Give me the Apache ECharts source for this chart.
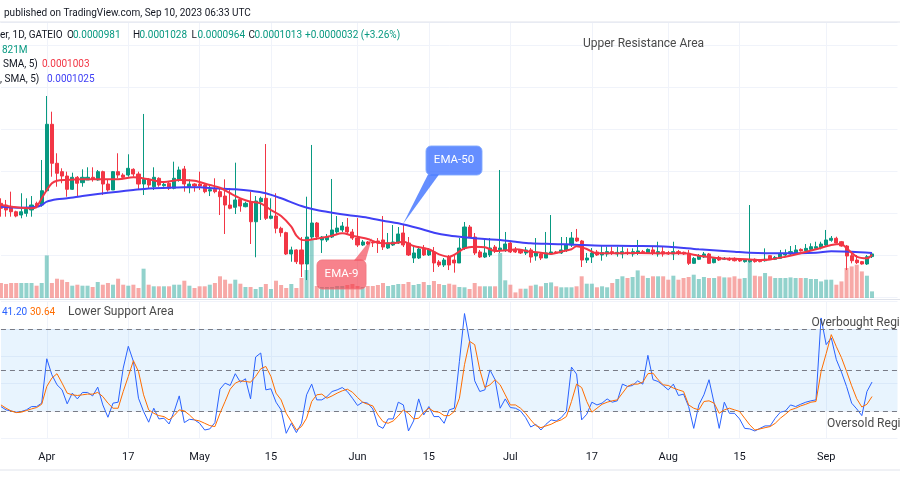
<!DOCTYPE html>
<html>
<head>
<meta charset="utf-8">
<script src="https://cdn.jsdelivr.net/npm/echarts/dist/echarts.min.js"></script>
<style>
html,body{margin:0;padding:0;background:#ffffff;}
#chart{width:900px;height:500px;}
</style>
</head>
<body>
<div id="chart"></div>
<script>
// ---- Data (prices in units of 0.0000001; volume in millions) ----
const PRICE_UNIT = 1e-7;
const firstDate = '2023-03-23';
const open = [1615,1595,1575,1515,1476,1496,1536,1615,1595,1765,
2556,2092,1992,1940,1782,1925,1861,1893,1925,1893,
1992,1845,1774,1992,1952,1952,2020,1964,1845,1901,
1813,1913,1825,1854,1794,1893,2024,1806,1845,1845,
1833,1762,1782,1754,1702,1595,1568,1663,1575,1635,
1396,1635,1675,1437,1464,1318,1266,1012,1060,1060,
893,1214,1381,1179,1179,1214,1274,1298,1333,1274,
1202,1119,1155,1155,1167,1179,1083,1119,1143,1262,
1143,964,964,1083,1000,1036,917,881,976,940,
905,1083,1333,1214,1036,976,1000,1095,1060,1060,
1143,1060,1060,1024,1060,988,1012,964,1012,1036,
1024,1060,1119,1202,1167,940,976,1036,1000,1012,
1040,1012,1012,1032,1012,1020,1040,1020,1060,1012,
1040,1028,1012,1040,1032,1020,901,949,976,1012,
909,972,949,960,960,949,921,921,949,940,
932,992,949,960,1000,1012,1012,1067,1052,1067,
1079,1087,1119,1175,1199,1158,1107,992,940,921,
893,981];
const close = [1556,1536,1515,1464,1515,1544,1595,1575,1765,2556,
2092,1973,1940,1782,1925,1854,1925,1925,1901,1992,
1845,1774,1992,1952,1925,2032,1964,1845,1901,1833,
1925,1833,1841,1794,1913,2012,1845,1845,1821,1821,
1754,1778,1754,1694,1595,1556,1655,1583,1615,1396,
1643,1675,1437,1464,1318,1266,1012,1060,920,893,
1214,1381,1214,1214,1214,1298,1321,1345,1274,1202,
1119,1155,1131,1143,1143,1095,1143,1155,1250,1119,
1000,1024,1071,1000,1060,905,881,940,881,905,
1083,1333,1214,1024,976,1024,1083,1060,1083,1131,
1036,1036,1024,1060,976,1024,964,1024,1036,1024,
1060,1119,1202,1167,940,964,1024,1000,1028,1040,
1020,1032,1040,1020,1040,1048,1020,1067,1020,1040,
1012,1012,1040,1020,1012,901,960,992,1012,901,
960,940,960,940,932,929,940,940,921,921,
949,949,972,1020,1020,1040,1060,1048,1079,1099,
1099,1131,1179,1199,1143,1107,988,932,909,893,
980,1013];
const low = [1456,1456,1456,1449,1437,1456,1456,1556,1575,1754,
1932,1813,1854,1694,1774,1702,1813,1893,1873,1885,
1714,1754,1774,1913,1901,1932,1932,1774,1714,1798,
1774,1813,1813,1774,1782,1873,1754,1735,1754,1774,
1735,1702,1735,1476,1250,1544,1488,1515,1568,1131,
973,1417,1417,1425,1258,1218,1000,920,893,738,
702,1179,1179,1024,1155,1202,1250,1274,1250,1179,
1095,1107,1119,1095,1024,1060,1071,1107,1131,1095,
988,905,952,988,988,798,857,857,821,790,
905,1060,1202,1000,964,964,976,1024,1024,1036,
1024,1024,1012,1000,908,932,940,964,1000,1012,
1012,1036,1095,1155,857,905,905,988,932,980,
1000,980,960,1000,980,1000,1012,1012,1000,980,
980,1000,940,1000,1000,881,893,940,964,893,
901,929,940,929,923,917,909,909,909,913,
921,940,940,960,988,1000,1000,1040,1040,1060,
1067,1067,1107,1158,1139,1099,821,901,893,885,
881,964];
const high = [1675,1655,1754,1527,1735,1675,1702,1635,2131,2893,
2706,2211,2032,1992,1980,1940,2020,2044,2044,2012,
2004,1893,2000,2211,1973,2199,2032,1992,2679,1917,
2044,1925,1873,1873,2111,2052,2060,1901,1854,1992,
1845,1821,1913,1806,1901,1794,2099,1675,1635,1754,
1702,1694,2321,1675,1735,1337,1277,1099,1068,1214,
1694,2310,1393,1226,1250,1905,1464,1393,1440,1310,
1440,1179,1167,1167,1202,1464,1262,1357,1333,1357,
1214,1095,1107,1119,1083,1095,940,964,1000,1000,
1202,1393,1357,1262,1060,1202,1202,1119,2012,1274,
1155,1095,1071,1095,1083,1202,1024,1274,1476,1048,
1214,1214,1274,1310,1179,1024,1083,1060,1119,1099,
1099,1099,1099,1079,1079,1179,1060,1079,1099,1158,
1099,1048,1158,1060,1040,1060,976,1012,1036,1024,
976,988,976,972,972,960,952,1595,960,949,
1079,1000,988,1060,1067,1107,1119,1079,1131,1139,
1158,1158,1298,1226,1218,1167,1119,1020,1000,929,
1000,1028];
const volume = [1860,1740,1860,1860,1860,1860,1860,1525,1860,5282,
1860,2393,2269,1984,1525,1649,1525,1525,1364,1984,
1649,1860,1649,2393,1649,1525,1649,1240,3633,1649,
1451,1451,1451,1451,1649,1649,2145,1525,1240,1451,
1451,1649,1860,2691,2269,1773,2269,1773,1364,1364,
1116,1364,1736,1116,2145,1612,1240,1736,1240,2480,
3472,7192,1488,1364,1364,1364,1488,1488,1612,1736,
1488,1364,1488,1488,1612,1860,1488,1612,1736,1736,
1984,1612,1736,1984,1612,2108,1736,1612,1773,1649,
1364,1327,1116,1860,1451,1451,1451,1451,5580,2195,
1649,694,1153,1153,1525,1649,1451,1860,1934,1451,
1327,1327,1327,1451,2691,1773,1773,1327,1451,1327,
1860,2356,2691,2480,2604,3422,2765,2480,2691,2691,
2691,2269,2765,2269,2480,2604,2889,2356,2604,2480,
2480,2691,2554,2554,2691,2393,2480,4538,2765,2691,
3100,2691,2480,2480,2480,2554,2480,2480,2480,2356,
2356,2058,2269,2269,1649,2058,3720,3918,4129,3298,
2765,821];
// EMA readings: [day index, value]
const ema9 = [[0,1595],[3,1568],[6,1556],[7,1575],[8,1675],[9,1774],[10,1854],[11,1885],[13,1893],[16,1901],[19,1901],[23,1901],[26,1925],[29,1901],[32,1869],[35,1893],[38,1885],[41,1833],[43,1801],[45,1735],[47,1675],[49,1635],[51,1615],[53,1536],[55,1464],[57,1337],[58,1230],[59,1180],[60,1175],[61,1185],[63,1205],[65,1230],[67,1258],[69,1230],[72,1190],[74,1146],[77,1139],[79,1158],[81,1107],[84,1068],[86,1008],[88,980],[91,1080],[93,1099],[95,1092],[97,1048],[100,1060],[101,1068],[104,1039],[106,1027],[108,1012],[110,1039],[112,1068],[113,1105],[115,1071],[117,1020],[120,1020],[125,1024],[130,1020],[134,1020],[137,992],[141,960],[145,952],[147,946],[149,940],[151,946],[154,980],[157,1020],[160,1068],[163,1119],[165,1131],[166,1080],[168,980],[170,960],[171,1003]];
const ema50 = [[0,1575],[4,1563],[7,1575],[8,1595],[9,1635],[11,1663],[13,1675],[16,1702],[19,1726],[23,1754],[26,1774],[29,1792],[33,1800],[36,1806],[39,1806],[42,1794],[46,1782],[49,1765],[52,1735],[55,1675],[59,1583],[62,1536],[65,1504],[68,1476],[72,1444],[75,1408],[78,1377],[82,1318],[85,1266],[88,1232],[91,1211],[95,1190],[98,1179],[101,1158],[104,1139],[108,1131],[111,1127],[114,1119],[118,1111],[124,1107],[131,1099],[137,1068],[144,1039],[147,1027],[153,1020],[160,1027],[163,1044],[167,1039],[171,1025]];
const stochK = [23.3,20.9,20.1,19.2,19.7,20.9,23.3,23.3,25.8,58.2,
46.5,39.2,35.5,25.3,33.1,28.9,33.6,33.6,31.1,37.5,
24.5,15.5,25.8,26.5,51.4,67.3,56.3,29.4,19.7,11.9,
22.1,14.3,14.8,10.6,19.7,31.1,11.6,14.0,13.6,11.1,
6.2,7.0,11.6,36.0,40.4,38.7,47.3,41.1,43.6,28.9,
59.5,62.4,35.5,36.3,26.5,20.9,3.8,11.1,4.3,11.1,
31.9,39.7,28.2,28.2,30.6,34.3,35.5,37.2,34.3,29.4,
24.1,26.5,25.8,21.6,9.4,7.4,14.3,14.3,26.5,24.5,
5.5,12.8,28.9,17.2,23.3,16.0,16.0,11.1,20.9,22.1,
56.3,91.2,70.9,42.1,34.3,35.5,50.1,42.9,22.1,28.9,
22.6,22.1,20.1,15.3,8.4,10.4,6.2,10.4,13.6,12.8,
15.3,19.7,52.1,47.0,13.6,17.7,26.5,24.5,25.8,28.9,
26.5,27.5,39.7,38.0,38.7,42.1,39.7,60.7,42.9,41.6,
38.7,35.5,39.7,31.4,32.4,23.3,7.4,24.5,31.9,42.9,
25.8,7.4,26.5,18.4,18.4,14.3,7.4,7.0,5.5,7.4,
9.2,9.2,14.8,19.2,20.1,24.5,23.3,25.0,26.5,27.5,
28.2,88.0,68.5,73.4,57.5,48.5,38.0,25.8,21.6,16.7,
34.3,41.2];
const stochD = [24.5,22.1,20.1,18.9,19.2,20.4,21.6,22.6,25.0,38.0,
44.1,47.3,40.4,33.1,31.9,31.4,31.9,32.4,32.4,33.6,
30.6,25.8,22.1,22.1,34.3,45.3,56.8,48.9,31.9,20.9,
18.4,16.7,16.0,13.6,16.7,20.9,20.1,17.2,13.6,12.8,
11.1,9.4,8.7,18.4,27.0,36.0,40.4,42.1,41.6,41.1,
45.3,50.9,52.6,45.3,33.1,28.2,18.4,12.3,6.2,8.7,
14.8,27.0,31.9,32.4,29.4,31.1,33.1,34.8,36.0,33.8,
29.9,26.5,25.0,23.8,17.2,12.3,11.1,12.8,16.5,20.9,
18.4,14.3,14.8,19.2,22.1,19.7,19.2,16.7,16.7,19.7,
29.4,53.9,70.9,68.5,50.1,37.2,39.2,42.9,39.2,31.9,
24.5,24.5,22.1,18.4,13.6,9.4,7.9,9.2,10.4,12.3,
13.6,16.0,27.0,39.7,37.2,27.0,19.2,22.1,25.0,26.5,
27.5,28.2,33.1,38.0,39.7,39.7,41.1,47.3,47.7,42.9,
39.2,38.7,36.8,35.5,34.3,24.5,22.1,20.9,27.0,27.5,
25.8,18.4,20.9,22.1,20.9,19.7,14.8,9.9,6.2,7.0,
7.9,8.7,11.1,14.8,17.7,20.9,22.1,23.8,25.0,26.5,
27.0,48.9,62.0,75.8,67.0,59.0,49.0,38.5,29.0,23.0,
25.0,30.64];
const tickLabels = {'Apr 1':'Apr','Apr 17':'17','May 1':'May','May 15':'15','Jun 1':'Jun','Jun 15':'15','Jul 1':'Jul','Jul 17':'17','Aug 1':'Aug','Aug 15':'15','Sep 1':'Sep'};
const lastClose = 1013;
const stochLevels = {upper:80, middle:50, lower:20};

// ---- Build ----
const MONTHS = ['Jan','Feb','Mar','Apr','May','Jun','Jul','Aug','Sep','Oct','Nov','Dec'];
const EXTRA_SLOTS = 5;
const dates = [];
const t0 = Date.parse(firstDate + 'T00:00:00Z');
for (let i = 0; i < open.length + EXTRA_SLOTS; i++) {
  const d = new Date(t0 + i * 86400000);
  dates.push(MONTHS[d.getUTCMonth()] + ' ' + d.getUTCDate());
}
const UP = '#089981', DOWN = '#f23645';
const candles = open.map((o, i) => [o * PRICE_UNIT, close[i] * PRICE_UNIT, low[i] * PRICE_UNIT, high[i] * PRICE_UNIT]);
const volData = volume.map((v, i) => ({value: v, itemStyle: {color: close[i] >= open[i] ? 'rgba(38,166,154,0.5)' : 'rgba(239,83,80,0.5)'}}));
const scalePts = pts => pts.map(p => [p[0], p[1] * PRICE_UNIT]);

const FONT = 'Roboto, "Liberation Sans", sans-serif';
const isTick = (i, v) => Object.prototype.hasOwnProperty.call(tickLabels, v);
function xAx(gi, labels, split) {
  return {
    type: 'category', gridIndex: gi, data: dates, boundaryGap: false,
    axisLine: {show: false}, axisTick: {show: false},
    axisLabel: {show: labels, interval: isTick, formatter: v => tickLabels[v] || '', color: '#131722', fontSize: 11, fontFamily: FONT, margin: 13},
    splitLine: {show: split, interval: isTick, lineStyle: {color: '#f0f3fa', width: 1}}
  };
}
function txt(x, y, t, fill, size, extra) {
  return Object.assign({type: 'text', x: x, y: y, z: 100, silent: true,
    style: {text: t, fill: fill, font: size + 'px ' + FONT, verticalAlign: 'middle'}}, extra || {});
}
function hline(y) {
  return {type: 'line', z: 90, silent: true, shape: {x1: 0, y1: y, x2: 900, y2: y}, style: {stroke: '#e0e3eb', lineWidth: 1}};
}

const option = {
  animation: false,
  backgroundColor: '#ffffff',
  grid: [
    {left: 0.95, right: 2.5, top: 22, height: 275},
    {left: 0.95, right: 2.5, top: 198, height: 100},
    {left: 0.95, right: 2.5, top: 301.5, height: 137}
  ],
  xAxis: [xAx(0, false, true), xAx(1, false, false), xAx(2, true, true)],
  yAxis: [
    {gridIndex: 0, type: 'value', min: 0.00005, max: 0.00037738, interval: 0.00005,
      axisLabel: {show: false}, axisLine: {show: false}, axisTick: {show: false},
      splitLine: {lineStyle: {color: '#f0f3fa'}}},
    {gridIndex: 1, type: 'value', min: 0, max: 12400, show: false, splitLine: {show: false}},
    {gridIndex: 2, type: 'value', min: 0, max: 100, interval: 20,
      axisLabel: {show: false}, axisLine: {show: false}, axisTick: {show: false},
      splitLine: {lineStyle: {color: '#f0f3fa'}}}
  ],
  series: [
    {type: 'bar', xAxisIndex: 1, yAxisIndex: 1, data: volData, barWidth: 4, z: 1, silent: true},
    {type: 'candlestick', xAxisIndex: 0, yAxisIndex: 0, data: candles, barWidth: 3.6, z: 3,
      itemStyle: {color: UP, color0: DOWN, borderColor: UP, borderColor0: DOWN, borderWidth: 1},
      markLine: {silent: true, symbol: ['none', 'none'], label: {show: false},
        lineStyle: {color: UP, type: [1, 2], width: 1},
        data: [{yAxis: lastClose * PRICE_UNIT}]}},
    {type: 'line', xAxisIndex: 0, yAxisIndex: 0, data: scalePts(ema50), showSymbol: false, smooth: 0.3, z: 4,
      lineStyle: {color: '#4040f5', width: 2}},
    {type: 'line', xAxisIndex: 0, yAxisIndex: 0, data: scalePts(ema9), showSymbol: false, smooth: 0.3, z: 5,
      lineStyle: {color: '#f23645', width: 2}},
    {type: 'line', xAxisIndex: 2, yAxisIndex: 2, data: stochK, showSymbol: false, z: 4,
      lineStyle: {color: '#2962ff', width: 1},
      markArea: {silent: true, itemStyle: {color: 'rgba(33,150,243,0.1)'},
        data: [[{yAxis: stochLevels.lower}, {yAxis: stochLevels.upper}]]},
      markLine: {silent: true, symbol: ['none', 'none'], label: {show: false},
        lineStyle: {color: '#787b86', type: [5, 4], width: 1},
        data: [{yAxis: stochLevels.upper}, {yAxis: stochLevels.middle}, {yAxis: stochLevels.lower}]}},
    {type: 'line', xAxisIndex: 2, yAxisIndex: 2, data: stochD, showSymbol: false, z: 5,
      lineStyle: {color: '#ff6d00', width: 1}}
  ],
  graphic: [
    hline(22), hline(299.5), hline(470),
    txt(4, 13, 'published on TradingView.com, Sep 10, 2023 06:33 UTC', '#131722', 10),
    txt(0, 35, 'er, 1D, GATEIO', '#131722', 10),
    txt(67, 35, 'O', '#131722', 10), txt(73, 35, '0.0000981', UP, 10),
    txt(133, 35, 'H', '#131722', 10), txt(139.5, 35, '0.0001028', UP, 10),
    txt(191.5, 35, 'L', '#131722', 10), txt(197.5, 35, '0.0000964', UP, 10),
    txt(248.5, 35, 'C', '#131722', 10), txt(254.5, 35, '0.0001013', UP, 10),
    txt(305, 35, '+0.0000032 (+3.26%)', UP, 10),
    txt(2, 50, '821M', UP, 10),
    txt(3, 64, 'SMA, 5)', '#131722', 10), txt(42, 64, '0.0001003', DOWN, 10),
    txt(0, 79, ', SMA, 5)', '#131722', 10), txt(47, 79, '0.0001025', '#4040f5', 10),
    txt(583, 44, 'Upper Resistance Area', '#4a4a4a', 12),
    txt(2, 312, '41.20', '#2962ff', 10), txt(30, 312, '30.64', '#ff6d00', 10),
    txt(68, 312, 'Lower Support Area', '#4a4a4a', 12),
    txt(811.5, 323, 'Overbought Region', '#4a4a4a', 12),
    txt(827, 424, 'Oversold Region', '#4a4a4a', 12),
    // EMA-50 callout
    {type: 'rect', z: 60, silent: true, shape: {x: 426, y: 146, width: 56, height: 29, r: 5},
      style: {fill: 'rgba(41,98,255,0.72)', stroke: 'rgba(130,170,255,0.9)', lineWidth: 1}},
    {type: 'polygon', z: 60, silent: true, shape: {points: [[428, 174.5], [439, 174.5], [403, 224]]},
      style: {fill: 'rgba(41,98,255,0.72)'}},
    txt(454, 160.5, 'EMA-50', '#ffffff', 11.5, {z: 61, style: {text: 'EMA-50', fill: '#ffffff', font: '11.5px ' + FONT, align: 'center', verticalAlign: 'middle'}}),
    // EMA-9 callout
    {type: 'rect', z: 60, silent: true, shape: {x: 317, y: 260, width: 49, height: 29, r: 5},
      style: {fill: 'rgba(242,54,69,0.62)', stroke: 'rgba(242,120,130,0.9)', lineWidth: 1}},
    {type: 'polygon', z: 60, silent: true, shape: {points: [[354, 260.5], [365.5, 260.5], [372, 238]]},
      style: {fill: 'rgba(242,54,69,0.62)'}},
    txt(341.5, 274.5, 'EMA-9', '#ffffff', 11.5, {z: 61, style: {text: 'EMA-9', fill: '#ffffff', font: '11.5px ' + FONT, align: 'center', verticalAlign: 'middle'}})
  ]
};
const chart = echarts.init(document.getElementById('chart'), null, {renderer: 'canvas'});
chart.setOption(option);
</script>
</body>
</html>
